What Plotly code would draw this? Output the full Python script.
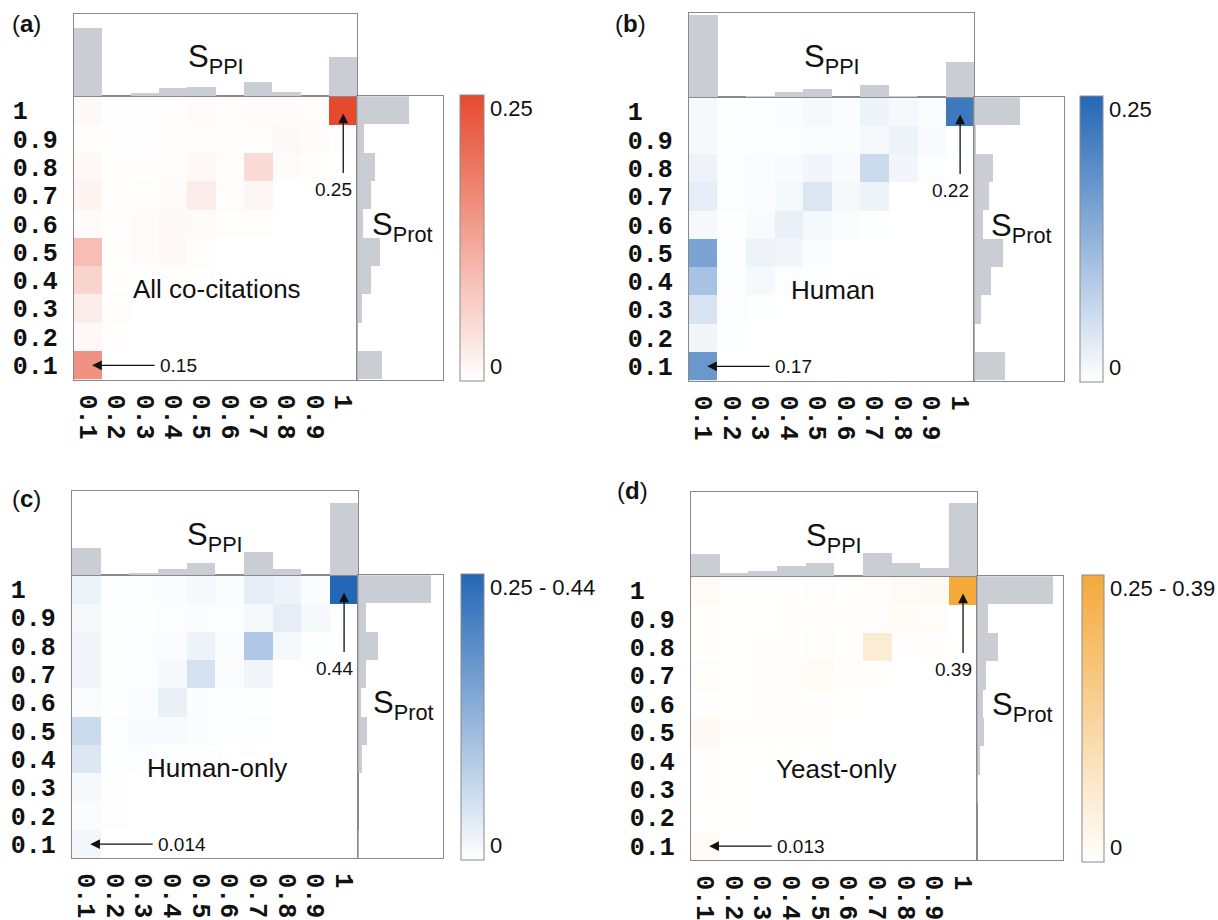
import plotly.graph_objects as go

W, H = 1218, 920

# ---------------- data ----------------
S_BINS = ["0.1", "0.2", "0.3", "0.4", "0.5", "0.6", "0.7", "0.8", "0.9", "1"]

# heatmap rows ordered from S_Prot = 0.1 (bottom) to 1 (top); columns S_PPI 0.1..1
HEAT_A = [
    [0.150, 0.000, 0.000, 0.000, 0.000, 0.000, 0.000, 0.000, 0.000, 0.000],
    [0.008, 0.002, 0.000, 0.000, 0.000, 0.000, 0.000, 0.000, 0.000, 0.000],
    [0.025, 0.003, 0.000, 0.000, 0.000, 0.000, 0.000, 0.000, 0.000, 0.000],
    [0.060, 0.002, 0.001, 0.002, 0.001, 0.000, 0.000, 0.000, 0.000, 0.000],
    [0.090, 0.002, 0.005, 0.008, 0.003, 0.000, 0.000, 0.000, 0.000, 0.000],
    [0.005, 0.002, 0.005, 0.010, 0.006, 0.002, 0.002, 0.000, 0.000, 0.000],
    [0.015, 0.002, 0.003, 0.006, 0.025, 0.004, 0.012, 0.000, 0.000, 0.000],
    [0.008, 0.002, 0.002, 0.004, 0.008, 0.003, 0.050, 0.005, 0.002, 0.000],
    [0.003, 0.001, 0.001, 0.002, 0.002, 0.002, 0.004, 0.010, 0.005, 0.001],
    [0.010, 0.001, 0.001, 0.002, 0.005, 0.003, 0.006, 0.006, 0.004, 0.250],
]
HEAT_B = [
    [0.170, 0.000, 0.000, 0.000, 0.000, 0.000, 0.000, 0.000, 0.000, 0.000],
    [0.015, 0.003, 0.000, 0.000, 0.000, 0.000, 0.000, 0.000, 0.000, 0.000],
    [0.045, 0.003, 0.002, 0.000, 0.000, 0.000, 0.000, 0.000, 0.000, 0.000],
    [0.100, 0.003, 0.010, 0.004, 0.002, 0.000, 0.000, 0.000, 0.000, 0.000],
    [0.150, 0.003, 0.020, 0.015, 0.005, 0.000, 0.000, 0.000, 0.000, 0.000],
    [0.010, 0.002, 0.008, 0.025, 0.010, 0.005, 0.002, 0.000, 0.000, 0.000],
    [0.030, 0.003, 0.005, 0.010, 0.040, 0.010, 0.020, 0.000, 0.000, 0.000],
    [0.020, 0.003, 0.005, 0.008, 0.015, 0.008, 0.060, 0.015, 0.003, 0.000],
    [0.010, 0.002, 0.003, 0.004, 0.005, 0.005, 0.010, 0.020, 0.008, 0.002],
    [0.010, 0.002, 0.003, 0.005, 0.010, 0.005, 0.020, 0.010, 0.005, 0.220],
]
HEAT_C = [
    [0.014, 0.000, 0.000, 0.000, 0.000, 0.000, 0.000, 0.000, 0.000, 0.000],
    [0.005, 0.001, 0.000, 0.000, 0.000, 0.000, 0.000, 0.000, 0.000, 0.000],
    [0.010, 0.001, 0.000, 0.000, 0.000, 0.000, 0.000, 0.000, 0.000, 0.000],
    [0.040, 0.002, 0.003, 0.002, 0.002, 0.000, 0.000, 0.000, 0.000, 0.000],
    [0.060, 0.003, 0.008, 0.008, 0.005, 0.003, 0.003, 0.000, 0.000, 0.000],
    [0.005, 0.002, 0.005, 0.025, 0.005, 0.003, 0.002, 0.000, 0.000, 0.000],
    [0.015, 0.002, 0.004, 0.010, 0.050, 0.005, 0.015, 0.000, 0.000, 0.000],
    [0.015, 0.002, 0.003, 0.005, 0.020, 0.005, 0.090, 0.010, 0.002, 0.000],
    [0.010, 0.002, 0.002, 0.003, 0.005, 0.004, 0.010, 0.030, 0.010, 0.002],
    [0.020, 0.003, 0.003, 0.005, 0.010, 0.005, 0.030, 0.020, 0.005, 0.440],
]
HEAT_D = [
    [0.013, 0.000, 0.000, 0.000, 0.000, 0.000, 0.000, 0.000, 0.000, 0.000],
    [0.001, 0.001, 0.000, 0.000, 0.000, 0.000, 0.000, 0.000, 0.000, 0.000],
    [0.002, 0.001, 0.000, 0.000, 0.000, 0.000, 0.000, 0.000, 0.000, 0.000],
    [0.004, 0.001, 0.001, 0.001, 0.000, 0.000, 0.000, 0.000, 0.000, 0.000],
    [0.015, 0.002, 0.004, 0.004, 0.002, 0.000, 0.000, 0.000, 0.000, 0.000],
    [0.003, 0.001, 0.002, 0.003, 0.004, 0.001, 0.000, 0.000, 0.000, 0.000],
    [0.006, 0.001, 0.002, 0.004, 0.014, 0.002, 0.004, 0.000, 0.000, 0.000],
    [0.003, 0.001, 0.002, 0.003, 0.006, 0.003, 0.055, 0.004, 0.002, 0.000],
    [0.003, 0.001, 0.001, 0.002, 0.003, 0.002, 0.005, 0.010, 0.008, 0.001],
    [0.012, 0.002, 0.002, 0.003, 0.005, 0.003, 0.008, 0.012, 0.015, 0.390],
]

# marginal distributions (fraction of the marginal box)
TOP_A = [0.83, 0.00, 0.04, 0.10, 0.12, 0.00, 0.18, 0.06, 0.00, 0.48]
TOP_B = [0.98, 0.00, 0.01, 0.07, 0.10, 0.00, 0.15, 0.01, 0.00, 0.42]
TOP_C = [0.32, 0.00, 0.03, 0.08, 0.15, 0.00, 0.28, 0.08, 0.00, 0.86]
TOP_D = [0.27, 0.04, 0.06, 0.12, 0.16, 0.00, 0.28, 0.16, 0.10, 0.87]

RIGHT_A = [0.29, 0.01, 0.06, 0.16, 0.27, 0.07, 0.16, 0.21, 0.08, 0.61]
RIGHT_B = [0.34, 0.01, 0.08, 0.19, 0.32, 0.10, 0.17, 0.21, 0.02, 0.51]
RIGHT_C = [0.01, 0.00, 0.00, 0.05, 0.11, 0.03, 0.10, 0.23, 0.09, 0.86]
RIGHT_D = [0.00, 0.00, 0.01, 0.04, 0.08, 0.07, 0.11, 0.24, 0.13, 0.89]

PANEL_LABELS = ["(a)", "(b)", "(c)", "(d)"]
SUBSET_NAMES = ["All co-citations", "Human", "Human-only", "Yeast-only"]
CBAR_TOP_TEXT = ["0.25", "0.25", "0.25 - 0.44", "0.25 - 0.39"]
PEAK_TEXT = ["0.25", "0.22", "0.44", "0.39"]
LOW_TEXT = ["0.15", "0.17", "0.014", "0.013"]
Z_MAX = 0.25

HEATS = [HEAT_A, HEAT_B, HEAT_C, HEAT_D]
TOPS = [TOP_A, TOP_B, TOP_C, TOP_D]
RIGHTS = [RIGHT_A, RIGHT_B, RIGHT_C, RIGHT_D]
COLORS = ["#E64A2E", "#2467B6", "#2467B6", "#F4A93A"]

# ---------------- layout geometry (pixels) ----------------
GEOM = [
    dict(hx=(72, 356), hy=(97, 382), top=14, right=442, cb=459, cbw=24),
    dict(hx=(688, 974), hy=(98, 383), top=13, right=1064, cb=1080, cbw=23),
    dict(hx=(70, 357), hy=(579, 864), top=494, right=442, cb=460, cbw=23),
    dict(hx=(690, 977), hy=(580, 866), top=495, right=1063, cb=1082, cbw=22),
]
LABEL_POS = [(8, 24), (612, 24), (8, 502), (614, 494)]


def xp(px):
    return px / W


def yp(py):
    return 1 - py / H


fig = go.Figure()
LINE = "#8a8a8a"
BAR = "#CACED4"
tickfont = dict(family="Liberation Mono", size=25, color="#111111", weight="bold")
ytext = [s + "\u00a0" * (3 - len(s)) for s in S_BINS]
annotations = []

for i in range(4):
    g = GEOM[i]
    n1, n2, n3 = 3 * i + 1, 3 * i + 2, 3 * i + 3
    hx0, hx1 = g["hx"]
    hy0, hy1 = g["hy"]
    sfx = "" if n1 == 1 else str(n1)

    fig.add_trace(go.Heatmap(
        x=S_BINS, y=S_BINS, z=HEATS[i], zmin=0, zmax=Z_MAX,
        colorscale=[[0, "#ffffff"], [1, COLORS[i]]],
        xaxis="x" + sfx, yaxis="y" + sfx,
        colorbar=dict(
            x=xp(g["cb"]), xanchor="left", y=yp((hy0 + hy1) / 2), yanchor="middle",
            lenmode="pixels", len=hy1 - hy0 + 1, thicknessmode="pixels", thickness=g["cbw"],
            outlinewidth=1, outlinecolor=LINE, showticklabels=False, ticks="",
            xpad=0, ypad=0,
        ),
    ))
    fig.add_trace(go.Bar(x=S_BINS, y=TOPS[i], marker=dict(color=BAR, line=dict(width=0)),
                         xaxis=f"x{n2}", yaxis=f"y{n2}", showlegend=False))
    fig.add_trace(go.Bar(y=S_BINS, x=RIGHTS[i], orientation="h",
                         marker=dict(color=BAR, line=dict(width=0)),
                         xaxis=f"x{n3}", yaxis=f"y{n3}", showlegend=False))

    box = dict(showline=True, mirror=True, linecolor=LINE, linewidth=1,
               showgrid=False, zeroline=False)
    fig.layout["xaxis" + sfx] = dict(
        domain=[xp(hx0), xp(hx1)], anchor="y" + sfx,
        type="category", range=[-0.5, 9.5], tickmode="array", tickvals=S_BINS,
        ticktext=S_BINS, tickangle=90, tickfont=tickfont,
        ticks="", ticklabelstandoff=9, **box)
    fig.layout["yaxis" + sfx] = dict(
        domain=[yp(hy1), yp(hy0)], anchor="x" + sfx,
        type="category", range=[-0.5, 9.5], tickmode="array", tickvals=S_BINS,
        ticktext=ytext, tickfont=tickfont, ticks="", ticklabelstandoff=10, **box)
    fig.layout[f"xaxis{n2}"] = dict(domain=[xp(hx0), xp(hx1)], anchor=f"y{n2}",
                                    type="category", range=[-0.5, 9.5],
                                    showticklabels=False, ticks="", **box)
    fig.layout[f"yaxis{n2}"] = dict(domain=[yp(hy0), yp(g["top"])], anchor=f"x{n2}",
                                    range=[0, 1], showticklabels=False, ticks="", **box)
    fig.layout[f"xaxis{n3}"] = dict(domain=[xp(hx1), xp(g["right"])], anchor=f"y{n3}",
                                    range=[0, 1], showticklabels=False, ticks="", **box)
    fig.layout[f"yaxis{n3}"] = dict(domain=[yp(hy1), yp(hy0)], anchor=f"x{n3}",
                                    type="category", range=[-0.5, 9.5],
                                    showticklabels=False, ticks="", **box)

    cw = (hx1 - hx0) / 10
    ch = (hy1 - hy0) / 10
    axr = "x" + sfx
    ayr = "y" + sfx
    # arrows
    annotations.append(dict(x=9, y=9, xref=axr, yref=ayr, text="", showarrow=True,
                            ax=0, ay=64, arrowhead=2, arrowsize=1.5, arrowwidth=1.3,
                            arrowcolor="#111", standoff=3))
    annotations.append(dict(x=0, y=0, xref=axr, yref=ayr, text="", showarrow=True,
                            ax=68, ay=0, arrowhead=2, arrowsize=1.5, arrowwidth=1.3,
                            arrowcolor="#111", standoff=4))
    annotations.append(dict(x=xp(hx0 + 9.5 * cw - 10), y=yp(hy0 + 94), xref="paper", yref="paper",
                            text=PEAK_TEXT[i], showarrow=False, xanchor="center", yanchor="middle",
                            font=dict(family="Liberation Sans", size=19, color="#111")))
    annotations.append(dict(x=xp(hx0 + 0.5 * cw + 70), y=yp(hy1 - 0.5 * ch), xref="paper", yref="paper",
                            text=LOW_TEXT[i], showarrow=False, xanchor="left", yanchor="middle",
                            font=dict(family="Liberation Sans", size=19, color="#111")))
    annotations.append(dict(x=xp(hx0 + 0.505 * (hx1 - hx0)), y=yp(hy0 + 0.68 * (hy1 - hy0)),
                            xref="paper", yref="paper", text=SUBSET_NAMES[i], showarrow=False,
                            xanchor="center", yanchor="middle",
                            font=dict(family="Liberation Sans", size=26, color="#111")))
    annotations.append(dict(x=xp((hx0 + hx1) / 2), y=yp((g["top"] + hy0) / 2 + 4),
                            xref="paper", yref="paper", text="S<sub>PPI</sub>", showarrow=False,
                            xanchor="center", yanchor="middle",
                            font=dict(family="Liberation Sans", size=31, color="#111")))
    annotations.append(dict(x=xp((hx1 + g["right"]) / 2 + 2), y=yp(hy0 + 0.46 * (hy1 - hy0)),
                            xref="paper", yref="paper", text="S<sub>Prot</sub>", showarrow=False,
                            xanchor="center", yanchor="middle",
                            font=dict(family="Liberation Sans", size=31, color="#111")))
    annotations.append(dict(x=xp(g["cb"] + g["cbw"] + 4), y=yp(hy0 + 12), xref="paper", yref="paper",
                            text=CBAR_TOP_TEXT[i], showarrow=False, xanchor="left", yanchor="middle",
                            font=dict(family="Liberation Sans", size=22, color="#111")))
    annotations.append(dict(x=xp(g["cb"] + g["cbw"] + 4), y=yp(hy1 - 13), xref="paper", yref="paper",
                            text="0", showarrow=False, xanchor="left", yanchor="middle",
                            font=dict(family="Liberation Sans", size=22, color="#111")))
    lx, ly = LABEL_POS[i]
    annotations.append(dict(x=xp(lx), y=yp(ly), xref="paper", yref="paper",
                            text="(<b>" + PANEL_LABELS[i][1] + "</b>)", showarrow=False,
                            xanchor="left", yanchor="middle",
                            font=dict(family="Liberation Sans", size=24, color="#111")))

fig.update_layout(
    width=W, height=H, autosize=False,
    margin=dict(l=0, r=0, t=0, b=0),
    paper_bgcolor="white", plot_bgcolor="white",
    bargap=0, showlegend=False,
    annotations=annotations,
)

fig.write_html("out.html", config={"displayModeBar": False},
               post_script="document.body.style.margin='0px';document.body.style.overflow='hidden';")
